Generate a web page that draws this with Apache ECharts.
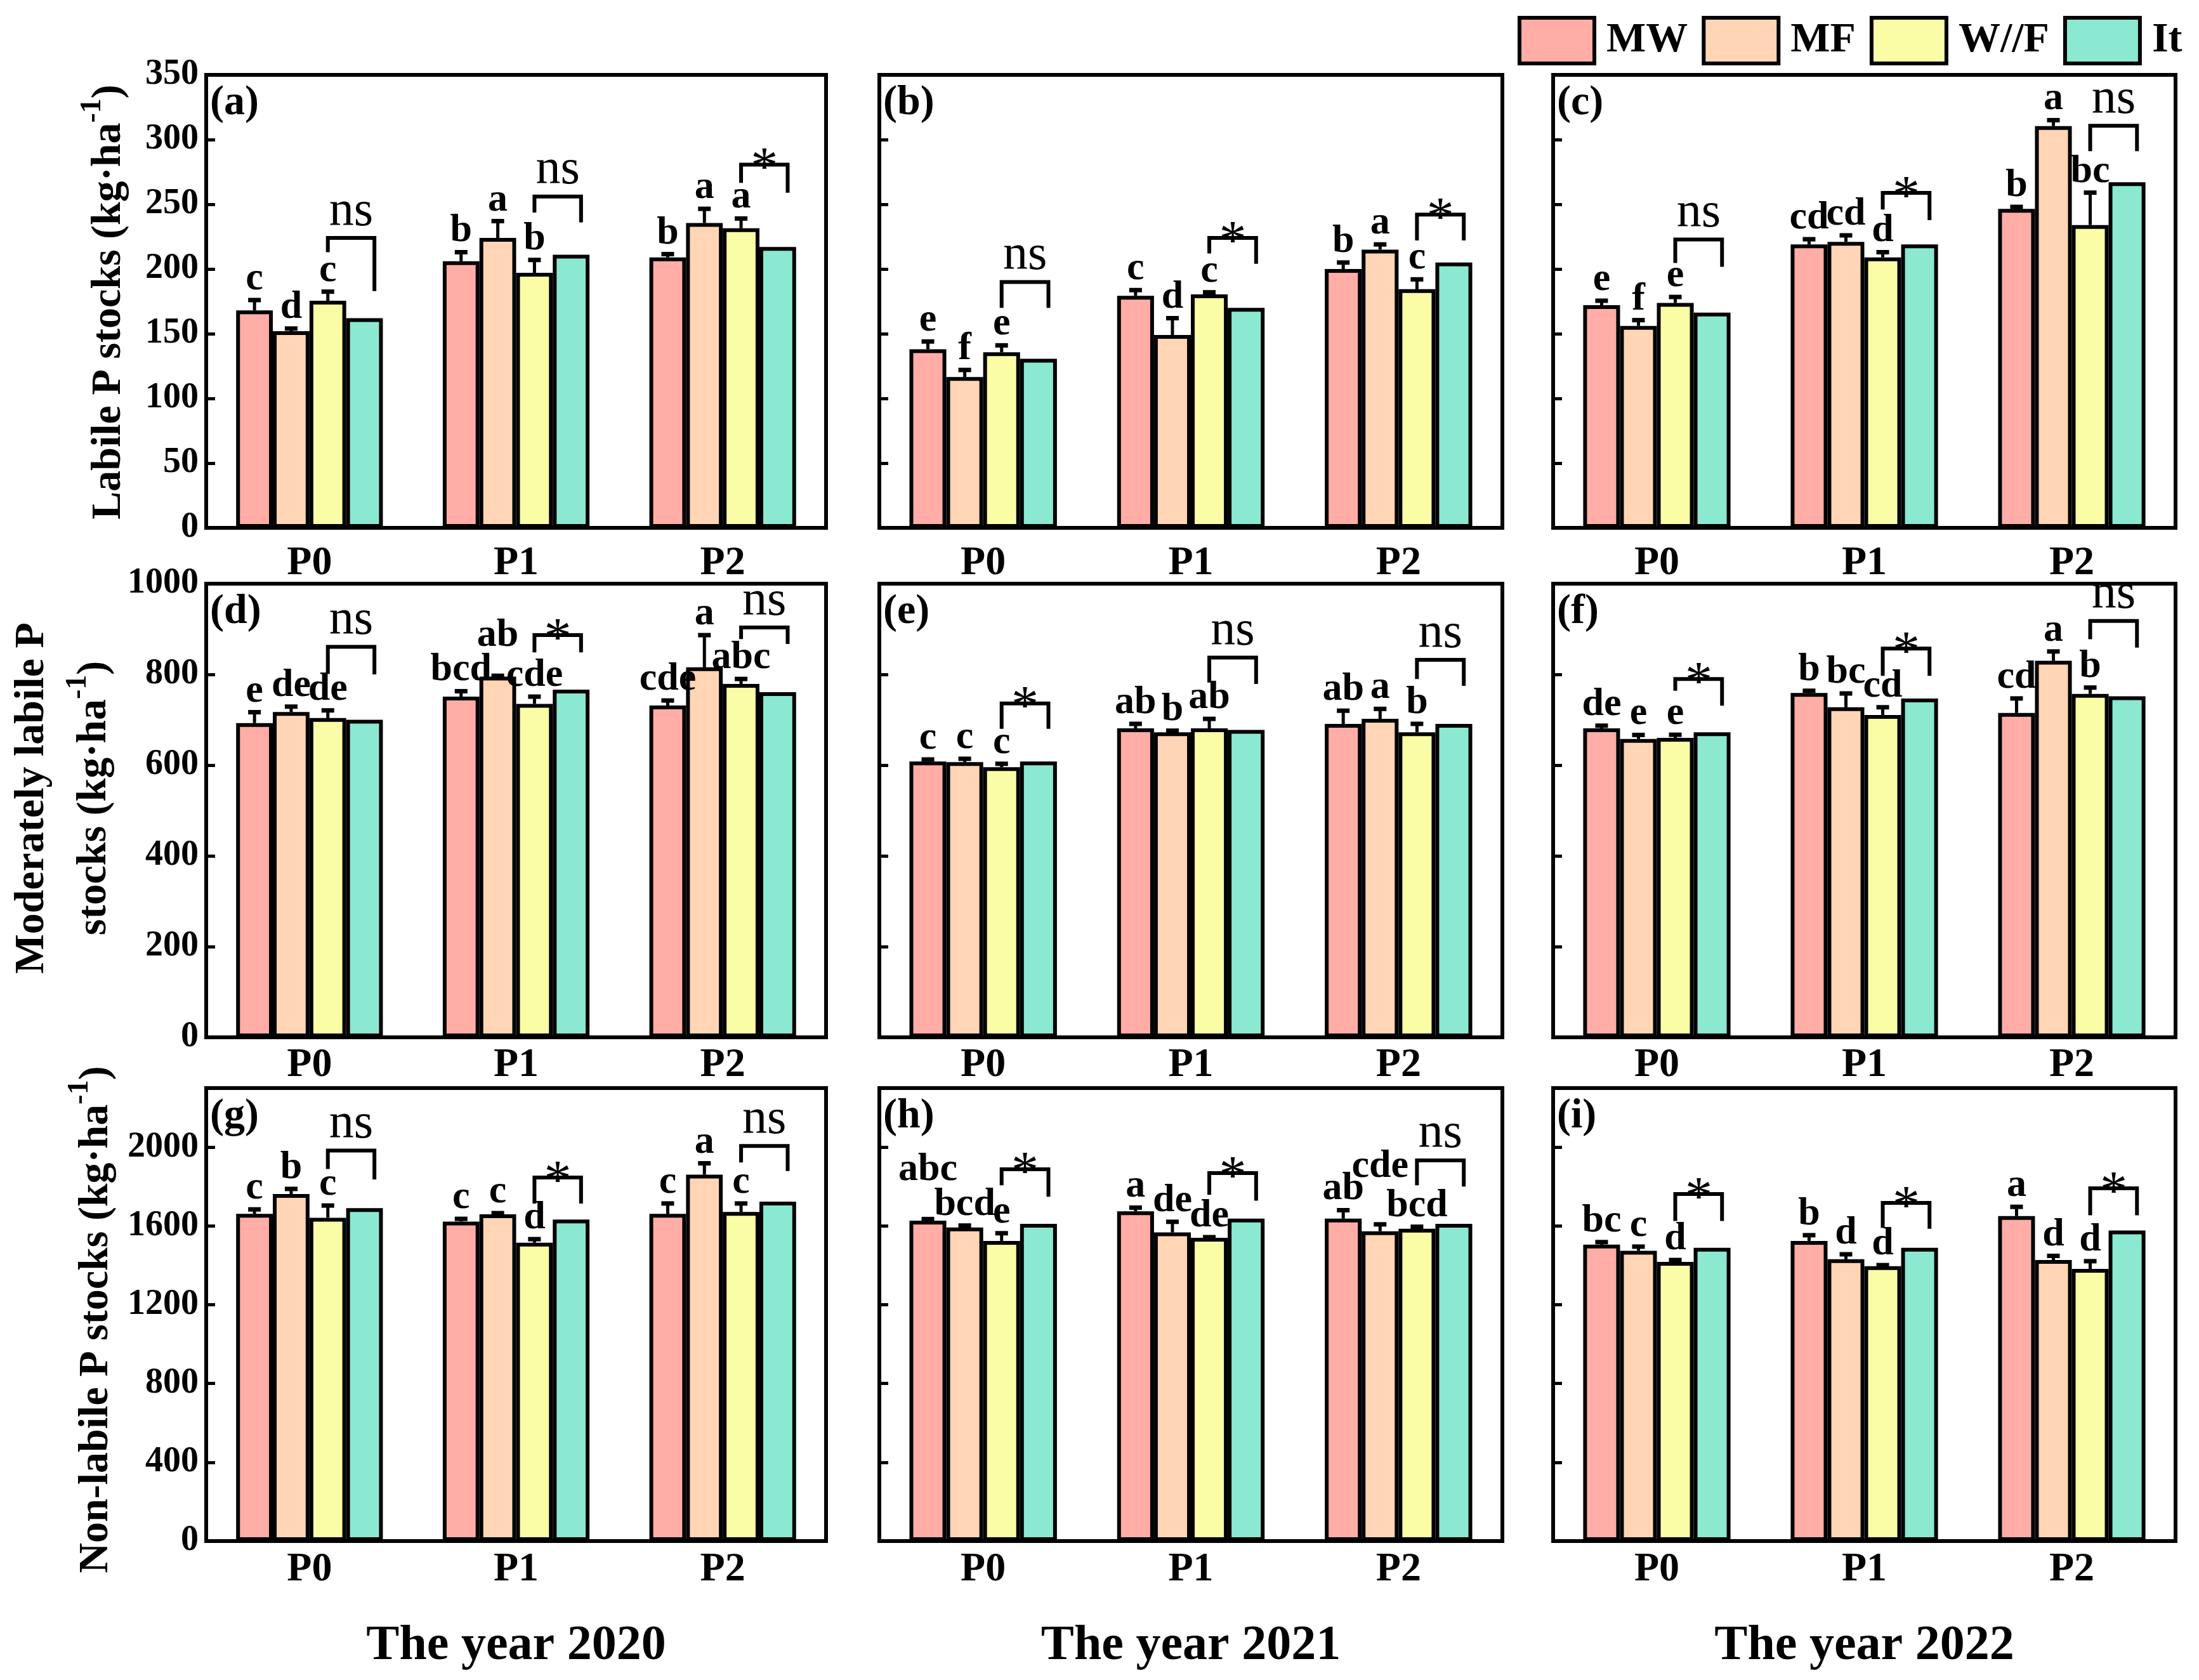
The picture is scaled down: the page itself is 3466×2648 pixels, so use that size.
<!DOCTYPE html>
<html><head><meta charset="utf-8">
<script src="https://cdn.jsdelivr.net/npm/echarts@6/dist/echarts.min.js"></script>
<style>html,body{margin:0;padding:0;background:#fff}#c{width:3466px;height:2648px}</style>
</head><body><div id="c"></div>
<script>
// ---------------- DATA ----------------
const categories = ['P0', 'P1', 'P2'];
const seriesNames = ['MW', 'MF', 'W//F', 'It'];
const colors = ['#FFADA6', '#FFD5B5', '#FAFCA6', '#8BE8D1'];
const panelLabels = ['(a)', '(b)', '(c)', '(d)', '(e)', '(f)', '(g)', '(h)', '(i)'];
const yearLabels = ['The year 2020', 'The year 2021', 'The year 2022'];
const rowMax = [350, 1000, 2300];
const rowInterval = [50, 200, 400];

// each mean/err array: rows = MW, MF, W//F, It ; columns = P0, P1, P2
// (a) Labile 2020
const meanA = [[168, 206, 209], [152, 224, 235.5], [175.5, 197, 231.5], [162, 211, 217]];
const errA = [[8, 7, 2.5], [2, 13, 11], [7, 10, 7.5], [0, 0, 0]];
const letA = [['c', 'b', 'b'], ['d', 'a', 'a'], ['c', 'b', 'a'], ['', '', '']];
const brkA = [[224, 213, 183], [256, 243.6, 236], [280.6, 266.6, 259]];
const sigA = ['ns', 'ns', '*'];
// (b) Labile 2021
const meanB = [[138, 179.3, 200], [116.5, 149, 215], [135.7, 180.4, 184.4], [130.6, 170, 205]];
const errB = [[6, 4.4, 5], [5.5, 13, 4], [5.3, 1.6, 7.6], [0, 0, 0]];
const letB = [['e', 'c', 'b'], ['f', 'd', 'a'], ['e', 'c', 'c'], ['', '', '']];
const brkB = [[190, 170, 170], [224, 212, 204], [242, 222, 222]];
const sigB = ['ns', '*', '*'];
// (c) Labile 2022
const meanC = [[172, 219, 246.4], [156, 221, 310.4], [173.8, 209, 234], [166.3, 219, 267]];
const errC = [[3.5, 4, 1.6], [4.5, 5, 4.6], [4.6, 4, 25], [0, 0, 0]];
const letC = [['e', 'cd', 'b'], ['f', 'cd', 'a'], ['e', 'd', 'bc'], ['', '', '']];
const brkC = [[222.8, 204.6, 201.7], [258.8, 246, 237.8], [310.7, 291, 291]];
const sigC = ['ns', '*', 'ns'];
// (d) Moderately labile 2020
const meanD = [[692.7, 751, 731.5], [717, 795, 815.6], [703.7, 735, 779], [700, 766.6, 760.8]];
const errD = [[24, 12, 11], [12, 2, 71], [17, 16, 11], [0, 0, 0]];
const letD = [['e', 'bcd', 'cde'], ['de', 'ab', 'a'], ['de', 'cde', 'abc'], ['', '', '']];
const brkD = [[861, 801, 800], [886.6, 848.6, 848.6], [903.4, 878, 867]];
const sigD = ['ns', '*', 'ns'];
// (e) Moderately labile 2021
const meanE = [[608, 681, 691], [606.6, 672.5, 702], [595.6, 681, 672.5], [608, 677.6, 691]];
const errE = [[4.5, 10, 29], [7.4, 3.5, 22], [7.4, 21, 18.5], [0, 0, 0]];
const letE = [['c', 'ab', 'ab'], ['c', 'b', 'a'], ['c', 'ab', 'b'], ['', '', '']];
const brkE = [[736, 680, 680], [837, 782, 779], [832, 790, 775]];
const sigE = ['*', 'ns', 'ns'];
// (f) Moderately labile 2022
const meanF = [[681, 759, 715], [657.6, 727.5, 830], [660, 710.6, 757], [672.5, 747, 751.6]];
const errF = [[6, 5, 32], [9, 30.5, 20.6], [7, 17, 14], [0, 0, 0]];
const letF = [['de', 'b', 'cd'], ['e', 'bc', 'a'], ['e', 'cd', 'b'], ['', '', '']];
const brkF = [[790, 764, 731], [857, 797, 797], [918, 877.6, 859]];
const sigF = ['*', '*', 'ns'];
// (g) Non-labile 2020
const meanG = [[1661, 1622, 1661], [1762, 1659, 1860], [1641.6, 1515, 1671], [1690, 1632, 1723]];
const errG = [[23, 14, 53], [26, 6, 58], [62, 18, 43], [0, 0, 0]];
const letG = [['c', 'c', 'c'], ['b', 'c', 'a'], ['c', 'd', 'c'], ['', '', '']];
const brkG = [[1982.5, 1889, 1836], [1846, 1714, 1714], [2006, 1922, 1879]];
const sigG = ['ns', '*', 'ns'];
// (h) Non-labile 2021
const meanH = [[1627, 1674, 1637], [1592, 1567, 1573], [1524, 1540, 1586], [1611, 1637, 1611]];
const errH = [[8, 19, 43], [10, 54, 35], [39, 3, 10], [0, 0, 0]];
const letH = [['abc', 'a', 'ab'], ['bcd', 'de', 'cde'], ['e', 'de', 'bcd'], ['', '', '']];
const brkH = [[1888, 1806, 1748], [1868, 1758, 1728], [1933, 1806, 1800]];
const sigH = ['*', '*', 'ns'];
// (i) Non-labile 2022
const meanI = [[1505, 1524, 1650], [1474, 1431, 1427], [1417, 1396, 1382], [1489, 1489, 1577]];
const errI = [[13, 29, 47], [21, 25, 21], [10, 5, 39], [0, 0, 0]];
const letI = [['bc', 'b', 'a'], ['c', 'd', 'd'], ['d', 'd', 'd'], ['', '', '']];
const brkI = [[1762, 1625, 1625], [1717, 1590, 1586], [1791, 1654, 1654]];
const sigI = ['*', '*', '*'];

// ---------------- LAYOUT ----------------
const FONT = '"Liberation Serif", "Times New Roman", serif';
const colLeft = [325, 1386, 2448];
const colWidth = [977, 982, 981];
const rowTop = [118, 920, 1715];
const rowHeight = [714, 715, 714];
const xLabelMargin = [24, 12, 13];
const GAP = 0.29;
// extra upward shift (px) of a few crowded letters: key = panel-series-category
const letterNudge = {'3-1-1': 30, '7-0-0': 44, '7-1-2': 58};

const panels = [
  [meanA, errA, letA, brkA, sigA], [meanB, errB, letB, brkB, sigB], [meanC, errC, letC, brkC, sigC],
  [meanD, errD, letD, brkD, sigD], [meanE, errE, letE, brkE, sigE], [meanF, errF, letF, brkF, sigF],
  [meanG, errG, letG, brkG, sigG], [meanH, errH, letH, brkH, sigH], [meanI, errI, letI, brkI, sigI]
];

const grids = [], xAxes = [], yAxes = [], series = [], graphics = [];

panels.forEach((p, k) => {
  const row = Math.floor(k / 3), col = k % 3;
  const [mean, err, lets, brk, sig] = p;
  grids.push({left: colLeft[col], top: rowTop[row], width: colWidth[col], height: rowHeight[row],
    show: true, borderColor: '#000', borderWidth: 6, backgroundColor: 'transparent'});
  xAxes.push({type: 'category', gridIndex: k, data: categories,
    axisLine: {show: true, lineStyle: {color: '#000', width: 6}}, axisTick: {show: false},
    axisLabel: {color: '#000', fontFamily: FONT, fontWeight: 'bold', fontSize: 64, margin: xLabelMargin[row]}});
  yAxes.push({type: 'value', gridIndex: k, min: 0, max: rowMax[row], interval: rowInterval[row],
    splitLine: {show: false},
    axisLine: {show: true, lineStyle: {color: '#000', width: 6}},
    axisTick: {show: true, inside: true, length: 14, lineStyle: {color: '#000', width: 5}},
    axisLabel: {show: col === 0, color: '#000', fontFamily: FONT, fontWeight: 'bold', fontSize: 56, margin: 12,
      formatter: v => (v === 2300 ? '' : String(v))}});
  seriesNames.forEach((name, s) => {
    series.push({type: 'bar', name: name, xAxisIndex: k, yAxisIndex: k, data: mean[s],
      barGap: '0%', barCategoryGap: (GAP * 100) + '%',
      itemStyle: {color: colors[s], borderColor: '#000', borderWidth: 6}, z: 2, silent: true});
  });
  // error bars + letters
  const eData = [], eLetters = [], eNudge = [];
  for (let s = 0; s < 4; s++) for (let c = 0; c < 3; c++) {
    eData.push([c, s, mean[s][c], err[s][c]]);
    eLetters.push(lets[s][c]);
    eNudge.push(letterNudge[k + '-' + s + '-' + c] || 0);
  }
  series.push({type: 'custom', xAxisIndex: k, yAxisIndex: k, data: eData, z: 5, silent: true,
    renderItem: function (params, api) {
      const c = api.value(0), s = api.value(1), v = api.value(2), e = api.value(3);
      const band = api.size([1, 0])[0];
      const bw = band * (1 - GAP) / 4;
      const pt = api.coord([c, v]);
      const x = pt[0] - 2 * bw + (s + 0.5) * bw;
      const yE = api.coord([c, v + e])[1];
      const ch = [];
      if (e > 0) {
        ch.push({type: 'line', shape: {x1: x, y1: pt[1], x2: x, y2: yE}, style: {stroke: '#000', lineWidth: 5}});
        ch.push({type: 'line', shape: {x1: x - 10, y1: yE, x2: x + 10, y2: yE}, style: {stroke: '#000', lineWidth: 7}});
      }
      const t = eLetters[params.dataIndex];
      if (t) ch.push({type: 'text', style: {text: t, x: x, y: yE - 2 - eNudge[params.dataIndex],
        align: 'center', verticalAlign: 'bottom', font: 'bold 62px ' + FONT, fill: '#000'}});
      return {type: 'group', children: ch};
    }});
  // significance brackets
  const bData = brk.map((b, c) => [c, b[0], b[1], b[2]]);
  series.push({type: 'custom', xAxisIndex: k, yAxisIndex: k, data: bData, z: 6, silent: true,
    renderItem: function (params, api) {
      const c = api.value(0), top = api.value(1), lb = api.value(2), rb = api.value(3);
      const band = api.size([1, 0])[0];
      const bw = band * (1 - GAP) / 4;
      const pt = api.coord([c, top]);
      const xl = pt[0] + 0.5 * bw, xr = pt[0] + 1.77 * bw;
      const yT = pt[1], yL = api.coord([c, lb])[1], yR = api.coord([c, rb])[1];
      const t = sig[params.dataIndex];
      const star = t === '*';
      return {type: 'group', children: [
        {type: 'polyline', shape: {points: [[xl, yL], [xl, yT], [xr, yT], [xr, yR]]},
          style: {stroke: '#000', lineWidth: 6, fill: null, lineJoin: 'miter'}},
        {type: 'text', style: {text: t, x: (xl + xr) / 2, y: star ? yT + 52 : yT - 2, align: 'center',
          verticalAlign: 'bottom', font: (star ? '86px ' : '78px ') + FONT, fill: '#000'}}
      ]};
    }});
  graphics.push({type: 'text', left: colLeft[col] + 6, top: rowTop[row] + 12, z: 10,
    style: {text: panelLabels[k], font: 'bold 66px ' + FONT, fill: '#000'}});
});

// year labels
yearLabels.forEach((t, i) => {
  graphics.push({type: 'text', x: colLeft[i] + colWidth[i] / 2, y: 2595, z: 10,
    style: {text: t, font: 'bold 78px ' + FONT, fill: '#000', align: 'center', verticalAlign: 'middle'}});
});
// y-axis titles
const titleRich = {
  m: {font: 'bold 66px ' + FONT, fill: '#000'},
  sup: {font: 'bold 46px ' + FONT, fill: '#000', verticalAlign: 'top', padding: [0, 0, 22, 0]}
};
const yTitles = [
  {x: 172, y: 476, text: '{m|Labile P stocks (kg·ha}{sup|-1}{m|)}'},
  {x: 100, y: 1258, text: '{m|Moderately labile P}\n{m|stocks (kg·ha}{sup|-1}{m|)}'},
  {x: 152, y: 2080, text: '{m|Non-labile P stocks (kg·ha}{sup|-1}{m|)}'}
];
yTitles.forEach(t => {
  graphics.push({type: 'text', x: t.x, y: t.y, rotation: Math.PI / 2, z: 10,
    style: {text: t.text, rich: titleRich, align: 'center', verticalAlign: 'middle', lineHeight: 98,
      font: 'bold 66px ' + FONT, fill: '#000'}});
});

const option = {
  backgroundColor: '#fff',
  animation: false,
  legend: {data: seriesNames, left: 2392, top: 25, width: 1074, padding: 0, orient: 'horizontal',
    itemWidth: 118, itemHeight: 72, itemGap: 22, icon: 'rect', selectedMode: false,
    textStyle: {fontFamily: FONT, fontWeight: 'bold', fontSize: 66, color: '#000', padding: [0, 0, 0, 14]},
    itemStyle: {borderColor: '#000', borderWidth: 6}},
  grid: grids, xAxis: xAxes, yAxis: yAxes, series: series, graphic: graphics
};
const chart = echarts.init(document.getElementById('c'));
chart.setOption(option);
</script></body></html>
